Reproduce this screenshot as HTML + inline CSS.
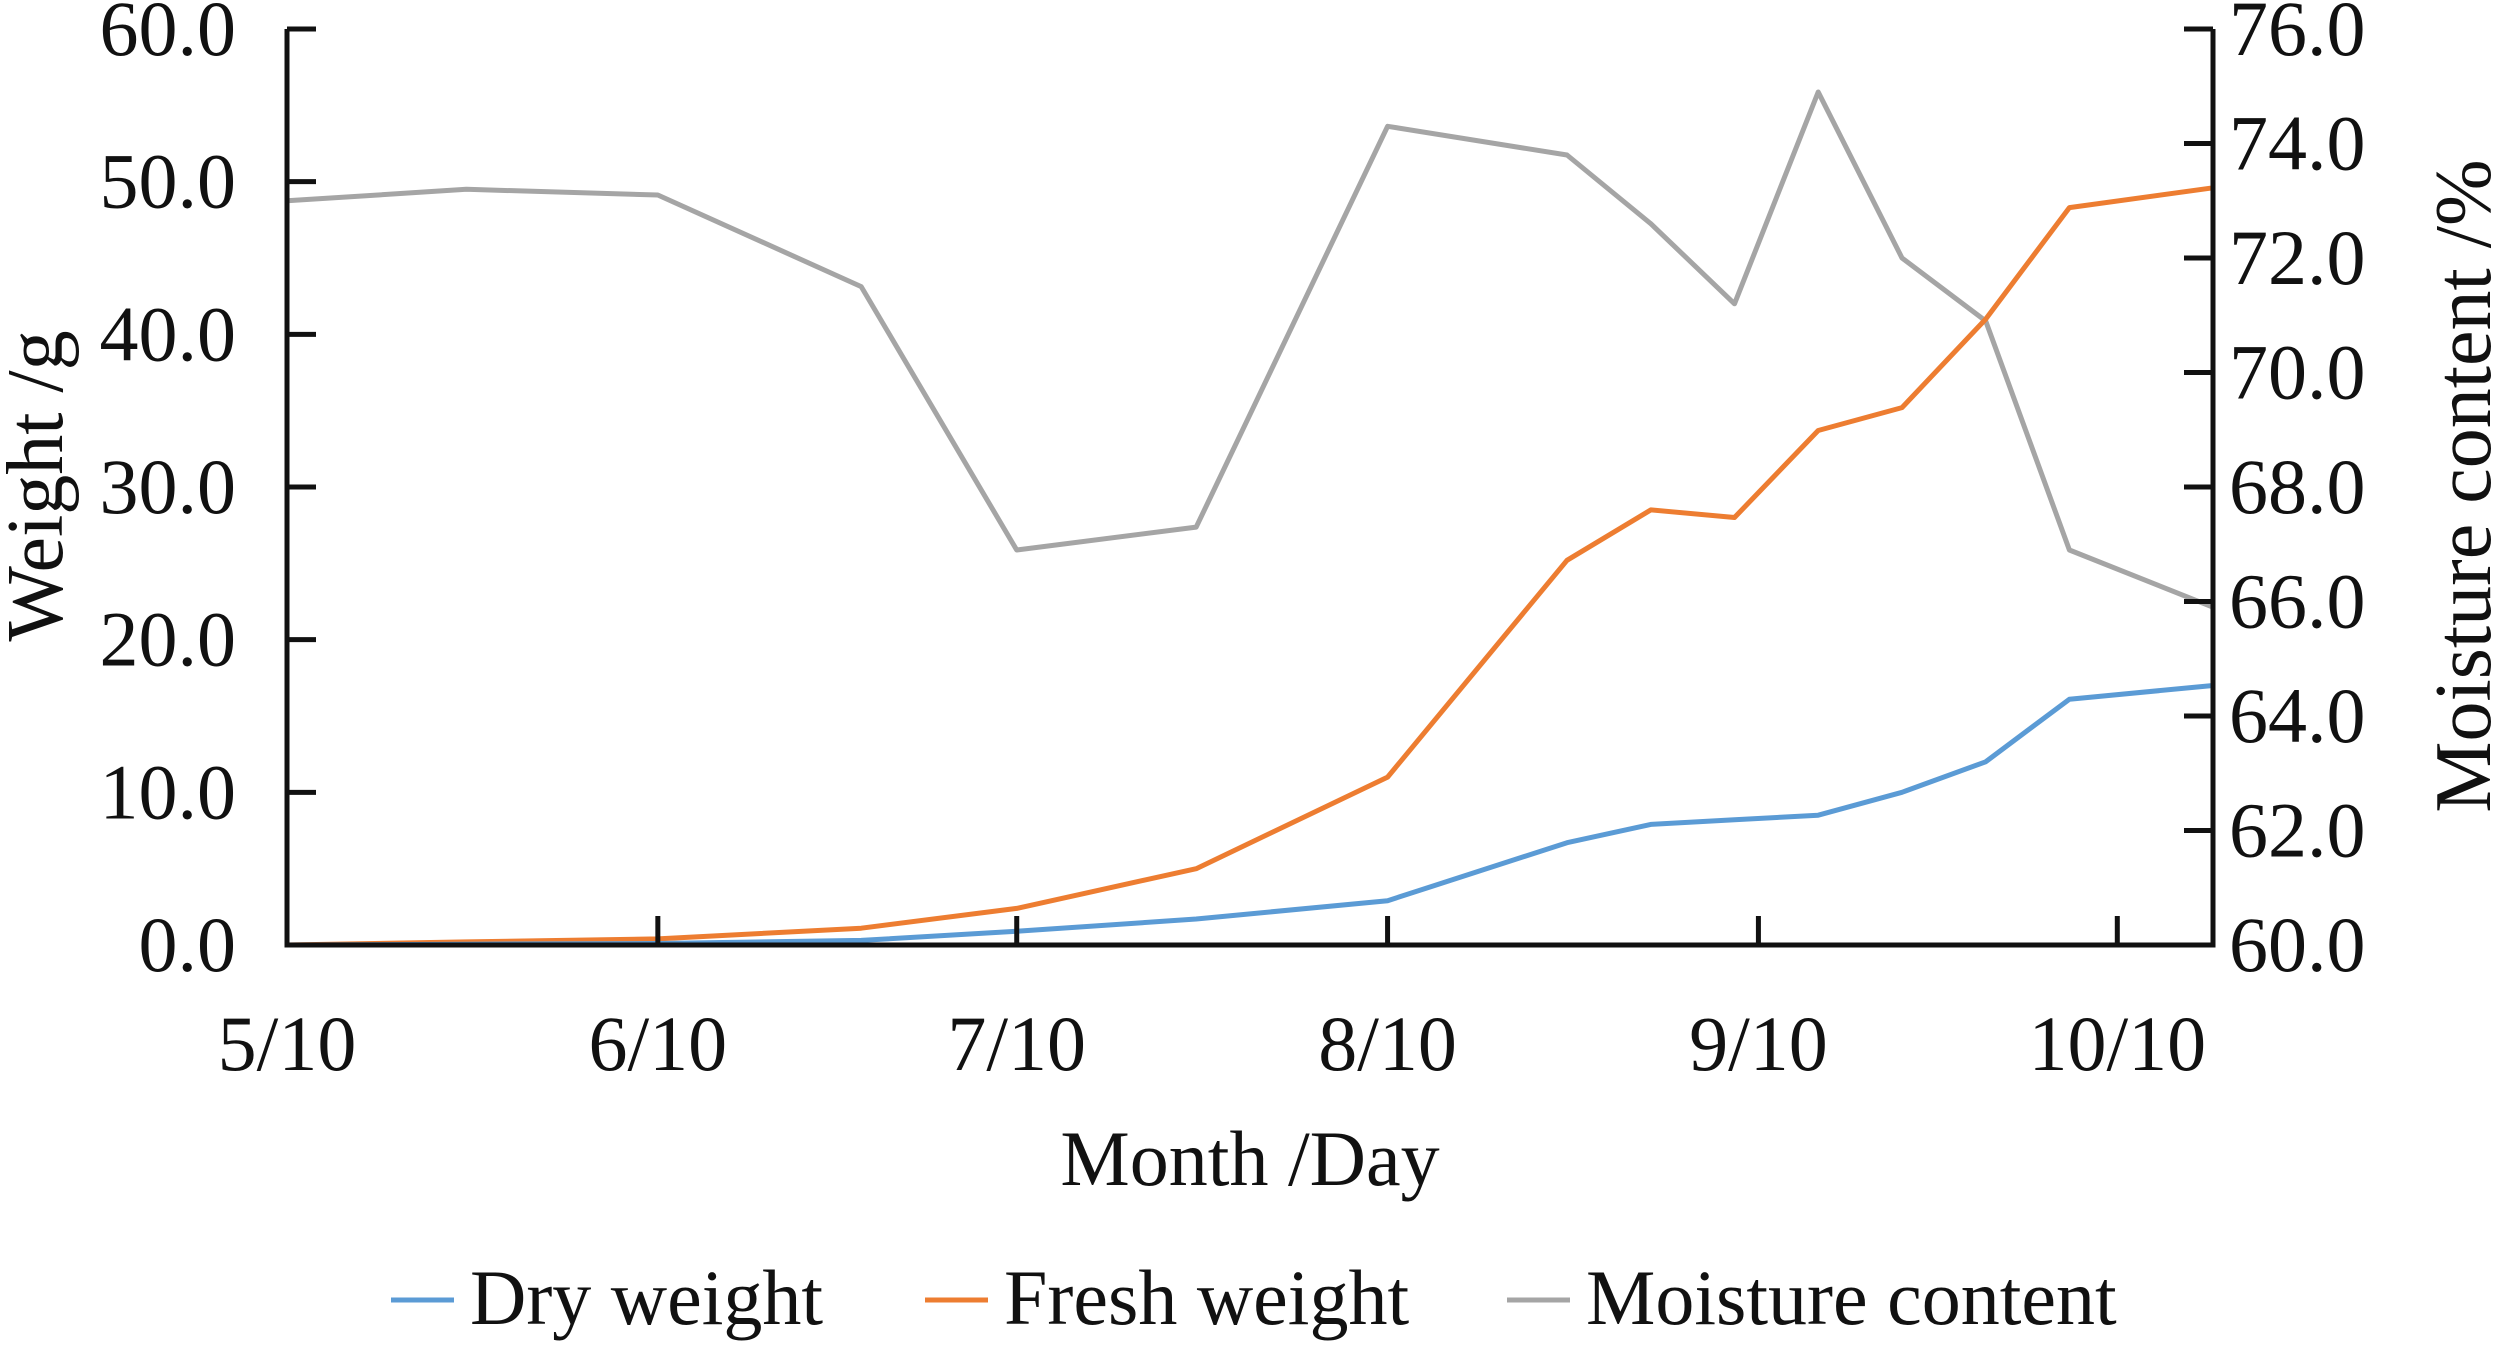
<!DOCTYPE html>
<html><head><meta charset="utf-8"><style>
body{margin:0;background:#fff}
svg text{font-family:"Liberation Serif",serif;fill:#111}
</style></head><body>
<svg id="chart" width="2500" height="1341" viewBox="0 0 2500 1341" xmlns="http://www.w3.org/2000/svg"></svg>
<script>
const days = [0,15,31,48,61,76,92,107,114,121,128,135,142,149,161];
const dryWeight = [0,0.05,0.1,0.3,0.9,1.7,2.9,6.7,7.9,8.2,8.5,10,12,16.1,17];
const freshWeight = [0,0.2,0.4,1.1,2.4,5,11,25.2,28.5,28,33.7,35.2,41,48.3,49.6];
const moisture = [73.0,73.2,73.1,71.5,66.9,67.3,74.3,73.8,72.6,71.2,74.9,72.0,70.9,66.9,65.9];
const xTickDays = [0,31,61,92,123,153];
const xTickLabels = ["5/10","6/10","7/10","8/10","9/10","10/10"];
const leftTicks = [0,10,20,30,40,50,60];
const rightTicks = [60,62,64,66,68,70,72,74,76];

const svg = document.getElementById('chart');
const NS = 'http://www.w3.org/2000/svg';
const L=287,R=2213,T=29,B=945;
const xS = d => L + (d-0)/(161-0)*(R-L);
const yL = v => B - v/60*(B-T);
const yR = v => B - (v-60)/16*(B-T);
function mk(tag, attrs, text){const e=document.createElementNS(NS,tag);for(const k in attrs)e.setAttribute(k,attrs[k]);if(text!==undefined)e.textContent=text;svg.appendChild(e);return e;}

function series(vals, yf, color, name){
  const pts = vals.map((v,i)=>xS(days[i]).toFixed(1)+','+yf(v).toFixed(1)).join(' ');
  const p = mk('polyline',{points:pts,fill:'none',stroke:color,'stroke-width':5,'stroke-linejoin':'round'});
  
  
}
series(moisture, yR, '#a5a5a5', 'moisture-content-line');
series(freshWeight, yL, '#ed7d31', 'fresh-weight-line');
series(dryWeight, yL, '#5b9bd5', 'dry-weight-line');

const ax = mk('path',{d:`M${L},${T} V${B} H${R} V${T}`,fill:'none',stroke:'#111','stroke-width':5});


leftTicks.forEach(v=>{
  const y=yL(v);
  const t=mk('line',{x1:L,x2:L+29,y1:y,y2:y,stroke:'#111','stroke-width':5});
  
  
  const tx=mk('text',{x:236,y:y+26,'text-anchor':'end','font-size':78},v.toFixed(1));
  
  
});
rightTicks.forEach(v=>{
  const y=yR(v);
  const t=mk('line',{x1:R-29,x2:R,y1:y,y2:y,stroke:'#111','stroke-width':5});
  
  
  const tx=mk('text',{x:2229,y:y+26,'text-anchor':'start','font-size':78},v.toFixed(1));
  
  
});
xTickDays.forEach((d,i)=>{
  const x=xS(d);
  const t=mk('line',{x1:x,x2:x,y1:B-29,y2:B,stroke:'#111','stroke-width':5});
  
  
  const tx=mk('text',{x:x,y:1070,'text-anchor':'middle','font-size':78},xTickLabels[i]);
  
  
});
let e;
e=mk('text',{x:1250,y:1185,'text-anchor':'middle','font-size':78},'Month /Day');


e=mk('text',{x:0,y:0,'text-anchor':'middle','font-size':80,transform:'translate(62,486) rotate(-90)'},'Weight /g');


e=mk('text',{x:0,y:0,'text-anchor':'middle','font-size':80,transform:'translate(2490,486) rotate(-90)'},'Moisture content /%');



const legend=[['Dry weight','#5b9bd5',391],['Fresh weight','#ed7d31',925],['Moisture content','#a5a5a5',1507]];
legend.forEach(([n,c,x])=>{
  const l=mk('line',{x1:x,x2:x+63,y1:1300,y2:1300,stroke:c,'stroke-width':5});
  
  
  const t=mk('text',{x:x+79,y:1324,'font-size':78},n);
  
  
});
</script>
</body></html>
